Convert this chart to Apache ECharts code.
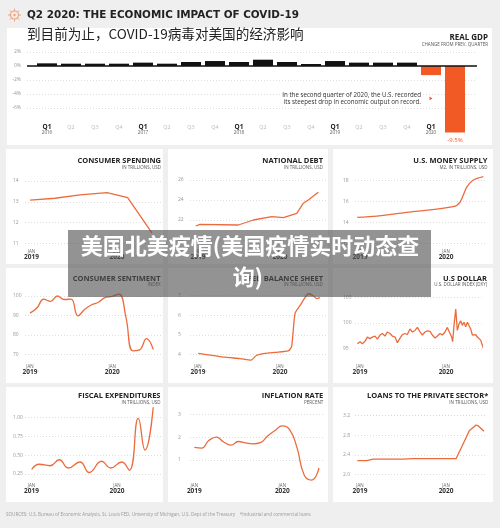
<!DOCTYPE html>
<html><head><meta charset="utf-8">
<script src="https://cdn.jsdelivr.net/npm/echarts@6/dist/echarts.min.js"></script>
<style>html,body{margin:0;padding:0;background:#efefef}#c{width:500px;height:528px}</style>
</head><body><div id="c"></div>
<script>
// ---------------- DATA ----------------
const gdpQuarters = ['Q1','Q2','Q3','Q4','Q1','Q2','Q3','Q4','Q1','Q2','Q3','Q4','Q1','Q2','Q3','Q4','Q1','Q2'];
const gdpYears    = ['2016','','','','2017','','','','2018','','','','2019','','','','2020',''];
const gdpValues   = [0.38,0.33,0.33,0.33,0.48,0.33,0.57,0.71,0.57,0.9,0.57,0.29,0.71,0.48,0.48,0.48,-1.3,-9.5];
const gdpTicks    = [-6,-4,-2,0,2];

// months since Jan 2019 and values
const spendX = [-0.2,3.3,6.8,10.6,13.5,16.9];
const spendY = [13.08,13.17,13.33,13.44,13.2,11.5];
const spendTicks = [11,12,13,14];

const debtX = [-0.34,0.29,5.9,8.1,10.8,12.5,14.45,15.4,16.15,17.6];
const debtY = [21.4,21.57,21.5,22.0,22.33,22.23,22.67,23.67,24.0,24.77];
const debtTicks = [20,22,24,26];

const m2X = [-0.38,2.33,7.4,13.0,13.95,14.9,15.8,17.2];
const m2Y = [14.48,14.6,15.02,15.5,15.95,17.4,18.07,18.4];
const m2Ticks = [12,14,16,18];

const sentX = [0,1,2,3,4,5,6,7,8,9,10,11,12,13,14,15,16,17,18];
const sentY = [91.2,93.8,98.4,97.2,100.0,98.2,98.4,89.8,93.2,95.5,96.8,99.3,99.8,101.0,89.1,71.8,72.3,78.1,72.5];
const sentTicks = [70,80,90,100];

const fedX = [0.04,3.95,6.15,7.76,8.59,9.8,11.27,13.2,13.7,14.2,14.93,15.66,16.14,16.87,17.37,17.85];
const fedY = [4.05,3.85,3.78,3.70,3.95,4.05,4.10,4.17,4.40,6.1,6.5,6.9,7.1,7.0,6.85,6.9];
const fedTicks = [4,5,6,7];

const dxyX = [-0.37,0,0.33,0.70,1.02,1.39,1.72,2.09,2.42,2.79,3.11,3.49,3.81,4.18,4.51,4.88,5.21,5.58,5.90,6.28,
  6.60,6.97,7.30,7.67,8.00,8.37,8.69,9.07,9.39,9.76,10.09,10.46,10.79,11.16,11.48,11.85,12.18,12.46,12.78,12.92,
  13.11,13.35,13.57,13.81,14.04,14.27,14.50,14.74,14.97,15.20,15.43,15.67,15.90,16.13,16.36,16.60,16.83,17.06,17.29,17.43];
const dxyY = [95.9,96.3,95.9,96.4,97.2,96.9,97.2,97.4,96.8,97.6,97.9,97.4,98.2,97.9,97.4,97.2,96.1,97.0,97.7,97.9,
  97.7,98.8,98.2,98.5,99.1,98.2,97.6,98.2,98.4,98.3,97.6,97.0,97.4,97.9,97.6,98.2,99.1,98.2,97.2,96.3,
  99.5,102.7,98.5,99.8,100.4,99.5,100.1,99.2,100.1,100.4,98.8,97.6,97.9,97.7,97.2,96.9,96.6,95.6,94.7,93.7];
const dxyTicks = [95,100,105];

const fiscX = [0.03,1.09,2.60,3.90,5.16,6.81,8.11,9.85,11.12,12.66,13.73,14.99,15.93,17.09];
const fiscY = [0.31,0.38,0.36,0.44,0.33,0.41,0.27,0.42,0.33,0.41,0.30,0.99,0.57,1.14];
const fiscTicks = [0.25,0.50,0.75,1.00];

const inflX = [0,1,2,3,4,5,6,7,8,9,10,11,12,13,14,15,16,17];
const inflY = [1.55,1.52,1.86,2.0,1.79,1.65,1.81,1.75,1.71,1.76,2.05,2.29,2.49,2.33,1.54,0.33,0.12,0.65];
const inflTicks = [1,2,3];

const loanX = [-0.38,0.93,1.85,6.04,7.43,13.39,14.41,15.24,16.18,16.5,17.29];
const loanY = [2.28,2.28,2.31,2.31,2.32,2.32,2.63,2.89,3.01,2.99,2.88];
const loanTicks = [2.0,2.4,2.8,3.2];

const xTickMonths = [0,12];
const xTickYears = ['2019','2020'];

// ---------------- LAYOUT ----------------
const ORANGE = '#f15a24', LINE = '#ec6b3d', FONT = "'Open Sans','Noto Sans',sans-serif";
const panels = [
 {x:spendX,y:spendY,t:spendTicks,dec:0,title:'CONSUMER SPENDING',sub:'IN TRILLIONS, USD',box:[6,149,157,115],L:25,R:161,T:181,B:243.3,xmin:-0.91,xmax:18.18,tY:160.7,sY:168,tR:161,jm:6,smooth:false},
 {x:debtX,y:debtY,t:debtTicks,dec:0,title:'NATIONAL DEBT',sub:'IN TRILLIONS, USD',box:[168,149,160,115],L:190,R:326,T:180,B:240,xmin:-1.17,xmax:18.73,tY:160.7,sY:168,tR:323,jm:9.2,smooth:false},
 {x:m2X,y:m2Y,t:m2Ticks,dec:0,title:'U.S. MONEY SUPPLY',sub:'M2, IN TRILLIONS, USD',box:[333,149,160,115],L:355,R:487,T:180.7,B:243.1,xmin:-0.70,xmax:17.71,tY:160.7,sY:168,tR:487.5,jm:6,smooth:0.3},
 {x:sentX,y:sentY,t:sentTicks,dec:0,title:'CONSUMER SENTIMENT',sub:'INDEX',box:[6,268,157,115],L:25,R:161,T:296,B:354.3,xmin:-0.73,xmax:19.12,tY:279,sY:285,tR:160.5,jm:9.9,smooth:0.45},
 {x:fedX,y:fedY,t:fedTicks,dec:0,title:'FED BALANCE SHEET',sub:'IN TRILLIONS, USD',box:[168,268,160,115],L:190,R:326,T:295.7,B:354.3,xmin:-1.17,xmax:18.73,tY:279,sY:285,tR:323,jm:9.9,smooth:0.2},
 {x:dxyX,y:dxyY,t:dxyTicks,dec:0,title:'U.S DOLLAR',sub:'U.S. DOLLAR INDEX (DXY)',box:[333,268,160,115],L:355,R:481.7,T:297.3,B:348.3,xmin:-0.70,xmax:16.97,tY:279,sY:285,tR:487,jm:15.9,smooth:false},
 {x:fiscX,y:fiscY,t:fiscTicks,dec:2,title:'FISCAL EXPENDITURES',sub:'IN TRILLIONS, USD',box:[6,387,157,115],L:25,R:161,T:417.7,B:474,xmin:-0.91,xmax:18.18,tY:395.7,sY:402.3,tR:160.5,jm:9.2,smooth:0.5},
 {x:inflX,y:inflY,t:inflTicks,dec:0,title:'INFLATION RATE',sub:'PERCENT',box:[168,387,160,115],L:190,R:323,T:414.3,B:460,xmin:-0.59,xmax:17.55,tY:395.7,sY:402.3,tR:323.3,jm:23.2,smooth:0.5},
 {x:loanX,y:loanY,t:loanTicks,dec:1,title:'LOANS TO THE PRIVATE SECTOR*',sub:'IN TRILLIONS, USD',box:[333,387,160,115],L:355,R:487,T:415.7,B:474.3,xmin:-0.70,xmax:17.71,tY:395.7,sY:402.3,tR:488.3,jm:8.9,smooth:false}
];

const W = 500, H = 528;
const grids = [{left:27,right:W-477,top:52,bottom:H-108}];
const xAxes = [{
  gridIndex:0,type:'value',min:-0.833,max:17.917,
  axisLine:{show:false},axisTick:{show:false},splitLine:{show:false},
  axisLabel:{customValues:gdpQuarters.map((q,i)=>i),margin:15.5,interval:0,
    formatter:(v)=>{const i=Math.round(v);const q=gdpQuarters[i];
      if(i===gdpQuarters.length-1) return '{qw|'+q+'}';
      if(q==='Q1') return '{q1|'+q+'}\n{yr|'+gdpYears[i]+'}';
      return '{qn|'+q+'}';},
    rich:{q1:{fontSize:6.5,fontWeight:'bold',color:'#222',fontFamily:FONT,lineHeight:7},
          qn:{fontSize:5.5,color:'#bbb',fontFamily:FONT,lineHeight:7},
          qw:{fontSize:6,color:'#fff',fontFamily:FONT,lineHeight:7},
          yr:{fontSize:4.5,color:'#555',fontFamily:FONT,lineHeight:5}}}
}];
const yAxes = [{
  gridIndex:0,type:'value',min:gdpTicks[0],max:gdpTicks[gdpTicks.length-1],interval:gdpTicks[1]-gdpTicks[0],
  axisLine:{show:false},axisTick:{show:false},
  axisLabel:{fontSize:5,color:'#999',fontFamily:FONT,margin:6,formatter:v=>v+'%'},
  splitLine:{lineStyle:{color:'#d5d5d5',type:[1,2],width:0.8}}
}];
const series = [{
  type:'bar',xAxisIndex:0,yAxisIndex:0,barWidth:20,clip:false,
  data:gdpValues.map((v,i)=>({value:[i,v],itemStyle:{color:i>=16?ORANGE:'#111'},
     label:i===17?{show:true,position:'bottom',distance:5,formatter:v+'%',color:ORANGE,fontSize:6,fontFamily:FONT}:{show:false}})),
  markLine:{silent:true,symbol:'none',label:{show:false},data:[{yAxis:0}],lineStyle:{color:'#111',width:1.6,type:'solid'}},
  z:3
}];
const graphics = [];
function rect(x,y,w,h,fill,z){graphics.push({type:'rect',shape:{x,y,width:w,height:h},style:{fill},z:z||-5,silent:true});}
function text(x,y,t,o){graphics.push({type:'text',x,y,z:(o.z||10),silent:true,style:{text:t,fill:o.fill||'#222',font:o.font,align:o.align||'left',verticalAlign:'middle',textAlign:o.align||'left',textVerticalAlign:'middle'}});}

rect(7,28,485,117,'#fff');
panels.forEach((p,k)=>{
  const gi=k+1;
  rect(p.box[0],p.box[1],p.box[2],p.box[3],'#fff');
  grids.push({left:p.L,right:W-p.R,top:p.T,bottom:H-p.B});
  xAxes.push({gridIndex:gi,type:'value',min:p.xmin,max:p.xmax,
    axisLine:{show:false},axisTick:{show:false},splitLine:{show:false},
    axisLabel:{customValues:xTickMonths,margin:p.jm,
      formatter:v=>'{a|JAN}\n{b|'+xTickYears[xTickMonths.indexOf(Math.round(v))]+'}',
      rich:{a:{fontSize:4.5,color:'#666',fontFamily:FONT,lineHeight:5},
            b:{fontSize:6.5,fontWeight:'bold',color:'#333',fontFamily:FONT,lineHeight:6}}}});
  yAxes.push({gridIndex:gi,type:'value',min:p.t[0],max:p.t[p.t.length-1],interval:p.t[1]-p.t[0],
    axisLine:{show:false},axisTick:{show:false},
    axisLabel:{align:'left',margin:12,fontSize:5,color:'#999',fontFamily:FONT,formatter:v=>v.toFixed(p.dec)},
    splitLine:{lineStyle:{color:'#d5d5d5',type:[1,2],width:0.8}}});
  series.push({type:'line',xAxisIndex:gi,yAxisIndex:gi,clip:false,showSymbol:false,symbol:'none',
    smooth:p.smooth,data:p.x.map((x,i)=>[x,p.y[i]]),lineStyle:{color:LINE,width:1.3}});
  text(p.tR,p.tY,p.title,{font:'bold 7.5px '+FONT,fill:'#222',align:'right'});
  text(p.tR,p.sY,p.sub,{font:'4.5px '+FONT,fill:'#555',align:'right'});
});

// header texts
text(27,15.3,'Q2 2020: THE ECONOMIC IMPACT OF COVID-19',{font:"bold 10.4px 'DejaVu Sans'",fill:'#222'});
text(27,34,'到目前为止，COVID-19病毒对美国的经济影响',{font:"13.6px 'Noto Sans CJK SC'",fill:'#222'});
text(488,38,'REAL GDP',{font:'bold 8px '+FONT,fill:'#222',align:'right'});
text(488,44.3,'CHANGE FROM PREV. QUARTER',{font:'4.5px '+FONT,fill:'#555',align:'right'});
text(421,95.3,'In the second quarter of 2020, the U.S. recorded',{font:'6.2px '+FONT,fill:'#333',align:'right'});
text(421,102.3,'its steepest drop in economic output on record.',{font:'6.2px '+FONT,fill:'#333',align:'right'});
graphics.push({type:'polygon',shape:{points:[[429.5,96.6],[432.5,98.4],[429.5,100.2]]},style:{fill:ORANGE},z:10,silent:true});
// icon
const spikes=[];for(let a=0;a<8;a++){const r=a*Math.PI/4;spikes.push({type:'line',shape:{x1:14.5+Math.cos(r)*4,y1:15+Math.sin(r)*4,x2:14.5+Math.cos(r)*6.5,y2:15+Math.sin(r)*6.5},style:{stroke:'#f3a07e',lineWidth:1}});}
graphics.push({type:'group',z:10,silent:true,children:[{type:'circle',shape:{cx:14.5,cy:15,r:4},style:{fill:'none',stroke:'#f3a07e',lineWidth:1.2}},{type:'circle',shape:{cx:14.5,cy:15,r:1.2},style:{fill:'#f3a07e'}}].concat(spikes)});
// sources
text(6,515,'SOURCES: U.S. Bureau of Economic Analysis, St. Louis FED, University of Michigan, U.S. Dept of the Treasury    *Industrial and commercial loans',{font:'4.6px '+FONT,fill:'#999'});
// watermark overlay
rect(68,230,363,67,'rgba(80,80,80,0.62)',100);
text(250,246,'美国北美疫情(美国疫情实时动态查',{font:"bold 22px 'Noto Sans CJK SC'",fill:'#fff',align:'center',z:101});
text(248,277,'询)',{font:"bold 22px 'Noto Sans CJK SC'",fill:'#fff',align:'center',z:101});

const chart = echarts.init(document.getElementById('c'),null,{renderer:'canvas',width:W,height:H});
chart.setOption({animation:false,backgroundColor:'#efefef',grid:grids,xAxis:xAxes,yAxis:yAxes,series,graphic:graphics});
</script></body></html>
